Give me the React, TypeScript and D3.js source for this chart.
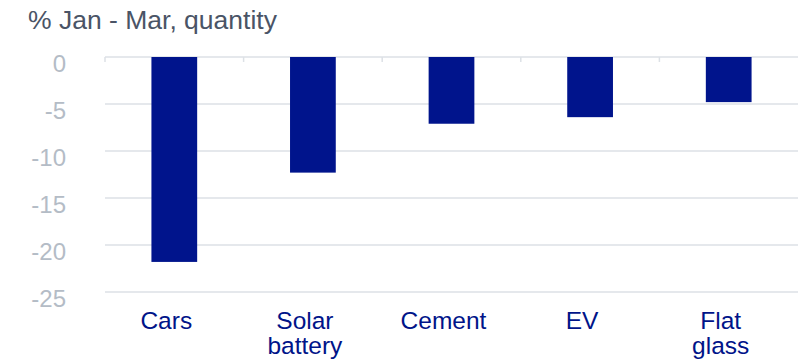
import React from "react";
import * as d3 from "d3";

const categories = [["Cars"], ["Solar", "battery"], ["Cement"], ["EV"], ["Flat", "glass"]];
const values = [-21.8, -12.3, -7.1, -6.4, -4.8];
const yTicks = [0, -5, -10, -15, -20, -25];
const title = "% Jan - Mar, quantity";

const W = 806;
const H = 362;
const margin = { left: 105, right: 8, top: 57, bottom: 70 };

export default function App() {
  const keys = categories.map((c) => c.join(" "));
  const x = d3
    .scaleBand<string>()
    .domain(keys)
    .range([margin.left, W - margin.right])
    .paddingInner(0.67)
    .paddingOuter(0.335);
  const xb = d3.scaleBand<string>().domain(keys).range([margin.left, W - margin.right]);
  const y = d3.scaleLinear().domain([0, -25]).range([margin.top, H - margin.bottom]);
  const font = "'Liberation Sans', Arial, sans-serif";
  // category labels sit slightly left of the bar centres
  const labelX = (k: string) => x(k)! + x.bandwidth() / 2 - 8;

  return (
    <svg width={W} height={H} style={{ position: "absolute", left: 0, top: 0 }}>
      <rect width={W} height={H} fill="#fff" />
      <text x={28} y={29} fontFamily={font} fontSize={26.5} fill="#4a5466">
        {title}
      </text>
      {yTicks.map((t) => (
        <g key={t}>
          <line x1={margin.left} x2={W - margin.right} y1={y(t)} y2={y(t)} stroke="#dde1e6" strokeWidth={1.5} />
          <text x={66} y={y(t) + 15} textAnchor="end" fontFamily={font} fontSize={24} fill="#b4bcc6">
            {t}
          </text>
        </g>
      ))}
      {keys.map((k) => (
        <line key={"t" + k} x1={xb(k)!} x2={xb(k)!} y1={y(0)} y2={y(0) + 5} stroke="#dde1e6" strokeWidth={1.5} />
      ))}
      {values.map((v, i) => (
        <rect
          key={keys[i]}
          x={x(keys[i])!}
          y={y(0)}
          width={x.bandwidth()}
          height={y(v) - y(0)}
          fill="#00148c"
        />
      ))}
      {categories.map((lines, i) => (
        <text
          key={"l" + i}
          x={labelX(keys[i])}
          y={329}
          textAnchor="middle"
          fontFamily={font}
          fontSize={24.5}
          fill="#001489"
        >
          {lines.map((ln, j) => (
            <tspan key={j} x={labelX(keys[i])} dy={j === 0 ? 0 : 24.5}>
              {ln}
            </tspan>
          ))}
        </text>
      ))}
    </svg>
  );
}
